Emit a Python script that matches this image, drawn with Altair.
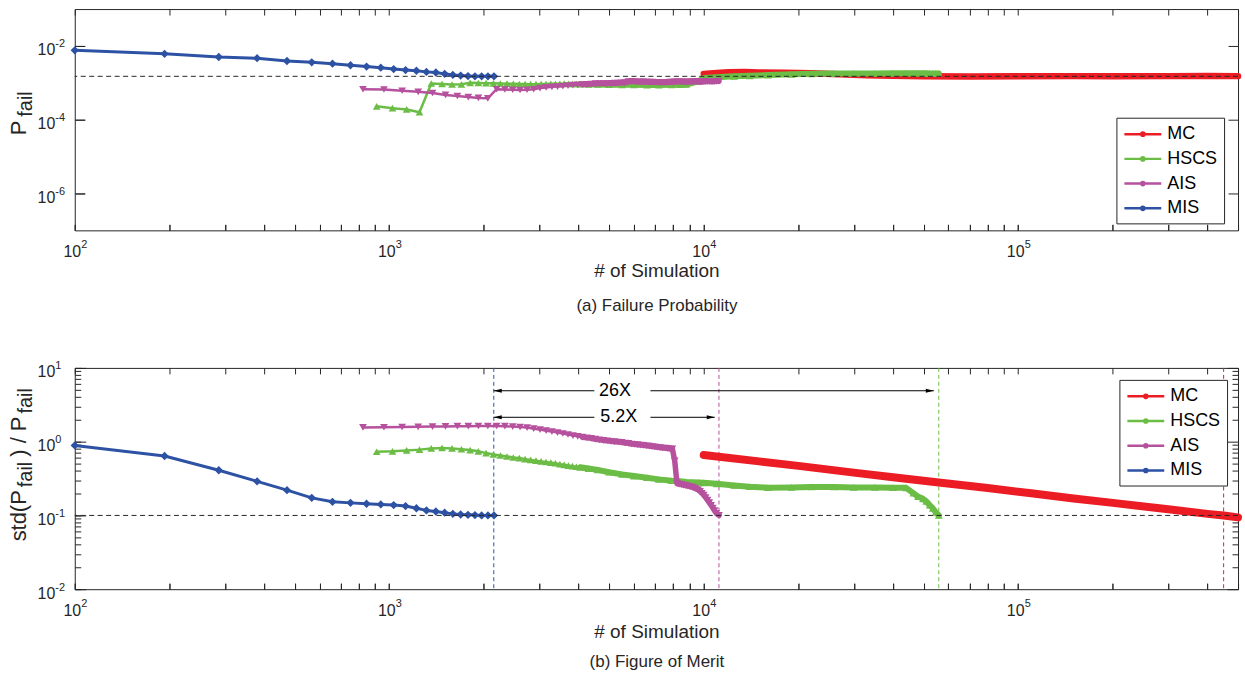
import altair as alt
import pandas as pd

# ---------------- data ----------------
SERIES = ["MC", "HSCS", "AIS", "MIS"]
COLORS = ["#EC1C24", "#6BBD45", "#B6519E", "#2D52A4"]

X_TICKS = [100, 200, 300, 400, 500, 600, 700, 800, 900,
           1000, 2000, 3000, 4000, 5000, 6000, 7000, 8000, 9000,
           10000, 20000, 30000, 40000, 50000, 60000, 70000, 80000, 90000,
           100000, 200000, 300000, 400000, 500000]
TOP_Y_MAJOR = [1e-6, 1e-4, 1e-2]
BOT_Y_MAJOR = [0.01, 0.1, 1.0, 10.0]
BOT_Y_MINOR = [0.02, 0.03, 0.04, 0.05, 0.06, 0.07, 0.08, 0.09,
               0.2, 0.3, 0.4, 0.5, 0.6, 0.7, 0.8, 0.9,
               2, 3, 4, 5, 6, 7, 8, 9]
P_REF = 1.5e-3
FOM_REF = 0.1

# MIS
n_mis = [100, 193, 287, 380, 473, 567, 660, 753, 847, 940, 1033, 1127, 1220,
         1313, 1407, 1500, 1593, 1687, 1780, 1873, 1967, 2060, 2153]
p_mis = [7.6e-3, 6.1e-3, 5.0e-3, 4.65e-3, 3.9e-3, 3.6e-3, 3.3e-3, 3.0e-3, 2.76e-3,
         2.57e-3, 2.36e-3, 2.22e-3, 2.12e-3, 1.98e-3, 1.9e-3, 1.75e-3, 1.64e-3,
         1.57e-3, 1.52e-3, 1.5e-3, 1.5e-3, 1.5e-3, 1.5e-3]
f_mis = [0.89, 0.64, 0.41, 0.29, 0.22, 0.173, 0.153, 0.148, 0.144, 0.141, 0.138,
         0.134, 0.125, 0.117, 0.113, 0.109, 0.105, 0.103, 0.102, 0.101, 0.1, 0.1, 0.1]

# AIS
n_ais = [825, 962, 1099, 1236, 1373, 1510, 1647, 1784, 1921, 2058,
         2195, 2332, 2469, 2606, 2743, 2880, 3017, 3154, 3291, 3428,
         3565, 3702, 3839, 3976, 4113, 4250, 4387, 4524, 4661, 4798,
         4935, 5072, 5209, 5346, 5483, 5620, 5757, 5894, 6031, 6168,
         6305, 6442, 6579, 6716, 6853, 6990, 7127, 7264, 7401, 7538,
         7675, 7812, 7949, 8086, 8223, 8360, 8497, 8634, 8771, 8908,
         9045, 9182, 9319, 9456, 9593, 9730, 9867, 10004, 10141, 10278,
         10415, 10552, 10689, 10826, 10963, 11180]
p_ais = [6.7e-4, 6.6e-4, 6.1e-4, 5.7e-4, 5.3e-4, 4.7e-4, 4.4e-4, 4.1e-4, 3.9e-4, 3.8e-4,
         6.7e-4, 6.6e-4, 6.5e-4, 6.4e-4, 6.5e-4, 6.7e-4, 7.2e-4, 7.5e-4, 7.8e-4, 7.9e-4,
         8.1e-4, 8.4e-4, 8.7e-4, 8.8e-4, 9.0e-4, 9.1e-4, 9.3e-4, 9.5e-4, 9.6e-4, 9.6e-4,
         9.6e-4, 9.7e-4, 9.8e-4, 9.9e-4, 1.0e-3, 1.01e-3, 1.08e-3, 1.09e-3, 1.08e-3, 1.07e-3,
         1.06e-3, 1.06e-3, 1.05e-3, 1.04e-3, 1.04e-3, 1.03e-3, 1.03e-3, 1.02e-3, 1.02e-3, 1.02e-3,
         1.03e-3, 1.04e-3, 1.05e-3, 1.06e-3, 1.07e-3, 1.07e-3, 1.06e-3, 1.06e-3, 1.05e-3, 1.05e-3,
         1.06e-3, 1.07e-3, 1.08e-3, 1.08e-3, 1.07e-3, 1.06e-3, 1.06e-3, 1.07e-3, 1.08e-3, 1.09e-3,
         1.09e-3, 1.08e-3, 1.08e-3, 1.09e-3, 1.10e-3, 1.11e-3]
f_ais = [1.56, 1.57, 1.58, 1.59, 1.60, 1.61, 1.62, 1.62, 1.63, 1.63,
         1.63, 1.62, 1.60, 1.58, 1.55, 1.50, 1.46, 1.41, 1.37, 1.33,
         1.29, 1.25, 1.21, 1.18, 1.15, 1.13, 1.11, 1.08, 1.06, 1.04,
         1.03, 1.01, 1.00, 0.99, 0.98, 0.96, 0.95, 0.93, 0.92, 0.91,
         0.90, 0.89, 0.88, 0.87, 0.86, 0.85, 0.84, 0.83, 0.82, 0.82,
         0.81, 0.80, 0.80, 0.55, 0.27, 0.265, 0.262, 0.258, 0.254, 0.250,
         0.246, 0.242, 0.236, 0.229, 0.222, 0.212, 0.200, 0.188, 0.175, 0.161,
         0.149, 0.137, 0.126, 0.116, 0.107, 0.100]

# HSCS
n_hscs = [912, 1024, 1136, 1248, 1360, 1472, 1584, 1696, 1808, 1920,
          2032, 2144, 2256, 2368, 2480, 2592, 2704, 2816, 2928, 3040,
          3152, 3264, 3376, 3488, 3600, 3712, 3824, 3936, 4048,
          4300, 4600, 5000, 5500, 6000, 6600, 7200, 7900, 8400, 8800,
          9600, 10000, 11000, 12500, 14000, 16000, 19000, 22000, 26000, 30000,
          35000, 40000, 44000, 46400, 48000, 49800, 51000, 52300, 53500, 54700, 55900]
p_hscs = [2.3e-4, 2.05e-4, 1.9e-4, 1.6e-4, 9.6e-4, 9.3e-4, 9.0e-4, 9.1e-4, 1.0e-3, 9.9e-4,
          9.8e-4, 9.7e-4, 9.6e-4, 9.5e-4, 9.4e-4, 9.3e-4, 9.3e-4, 9.2e-4, 9.2e-4, 9.3e-4,
          9.3e-4, 9.4e-4, 9.4e-4, 9.4e-4, 9.5e-4, 9.4e-4, 9.3e-4, 9.3e-4, 9.2e-4,
          9.1e-4, 9.0e-4, 8.9e-4, 8.8e-4, 8.8e-4, 8.7e-4, 8.7e-4, 8.8e-4, 8.9e-4, 9.0e-4,
          1.1e-3, 1.35e-3, 1.42e-3, 1.5e-3, 1.55e-3, 1.62e-3, 1.7e-3, 1.75e-3, 1.78e-3, 1.8e-3,
          1.8e-3, 1.81e-3, 1.82e-3, 1.82e-3, 1.82e-3, 1.81e-3, 1.81e-3, 1.8e-3, 1.8e-3, 1.8e-3, 1.8e-3]
f_hscs = [0.73, 0.74, 0.76, 0.78, 0.81, 0.82, 0.81, 0.79, 0.77, 0.74,
          0.70, 0.67, 0.65, 0.63, 0.61, 0.60, 0.58, 0.565, 0.553, 0.54,
          0.53, 0.52, 0.51, 0.495, 0.485, 0.474, 0.465, 0.457, 0.449,
          0.432, 0.415, 0.385, 0.36, 0.342, 0.325, 0.308, 0.295, 0.29, 0.285,
          0.28, 0.277, 0.268, 0.255, 0.245, 0.238, 0.24, 0.243, 0.243, 0.24,
          0.24, 0.238, 0.237, 0.20, 0.18, 0.168, 0.155, 0.138, 0.125, 0.11, 0.10]

# MC
n_mc_top = [10000, 11000, 12000, 13500, 15000, 18000, 22000, 27000, 33000,
            40000, 50000, 70000, 100000, 150000, 200000, 300000, 400000, 500000]
p_mc = [1.75e-3, 1.85e-3, 1.95e-3, 1.97e-3, 1.92e-3, 1.88e-3, 1.82e-3, 1.7e-3, 1.6e-3,
        1.55e-3, 1.5e-3, 1.48e-3, 1.5e-3, 1.52e-3, 1.5e-3, 1.52e-3, 1.53e-3, 1.52e-3]
n_mc_bot = [10000, 15000, 20000, 30000, 40000, 55900, 80000, 110000, 150000,
            200000, 300000, 400000, 450000, 500000]
f_mc = [0.66, 0.54, 0.47, 0.38, 0.33, 0.28, 0.235, 0.20, 0.17,
        0.148, 0.121, 0.105, 0.10, 0.094]

# annotations of panel (b)
VLINE_N = [2150, 11180, 55900, 450000]
VLINE_S = ["MIS", "AIS", "HSCS", "MC"]
ARROW_N1 = [2150, 6770, 2150, 6770]
ARROW_N2 = [4490, 53900, 4490, 10840]
ARROW_V = [4.9, 4.9, 2.14, 2.14]
HEAD_L_N = [2150, 2150]
HEAD_L_V = [4.9, 2.14]
HEAD_R_N = [53900, 10840]
HEAD_R_V = [4.9, 2.14]
RATIO_N = [5225, 5370]
RATIO_V = [4.9, 2.14]
RATIO_T = ["26X", "5.2X"]

# ---------------- tables ----------------
def frame(name, n, v):
    return pd.DataFrame({"N": n, "v": v, "series": name})

top_df = pd.concat([frame("MC", n_mc_top, p_mc), frame("HSCS", n_hscs, p_hscs),
                    frame("AIS", n_ais, p_ais), frame("MIS", n_mis, p_mis)], ignore_index=True)
bot_df = pd.concat([frame("MC", n_mc_bot, f_mc), frame("HSCS", n_hscs, f_hscs),
                    frame("AIS", n_ais, f_ais), frame("MIS", n_mis, f_mis)], ignore_index=True)
ONE = pd.DataFrame({"a": [0]})

# ---------------- styling helpers ----------------
FONT = "Liberation Sans"
INK = "#262626"
W, H = 1167, 222

XS = alt.Scale(type="log", domain=[100, 500000], nice=False)
YS_TOP = alt.Scale(type="log", domain=[1e-7, 1e-1], nice=False)
YS_BOT = alt.Scale(type="log", domain=[1e-2, 1e1], nice=False)
CS = alt.Scale(domain=SERIES, range=COLORS)

IS_DEC = "abs(log(datum.value)/LN10 - round(log(datum.value)/LN10)) < 0.001"
LBL_TEN = IS_DEC + " ? '10' : ''"
LBL_EXP = IS_DEC + " ? '' + round(log(datum.value)/LN10) : ''"

SYMBOL = "M-2,0H2M0.17,0A0.17,0.17,0,1,1,-0.17,0A0.17,0.17,0,1,1,0.17,0"


def ax(orient, values, size, labels=True, expr=None, pad=0, loff=0, fs=16, align=None):
    kw = dict(orient=orient, values=values, tickSize=size, offset=-size, domain=False,
              grid=False, ticks=True, tickColor=INK, tickWidth=1, title=None, labels=labels)
    if labels:
        kw.update(labelExpr=expr, labelPadding=pad, labelOffset=loff, labelFontSize=fs,
                  labelFont=FONT, labelColor=INK, labelOverlap=False, labelFlush=False,
                  labelBound=False)
        if align:
            kw["labelAlign"] = align
    return alt.Axis(**kw)


def X(axis=None):
    return alt.X("N:Q", scale=XS, axis=axis)


def Y(ys, axis=None):
    return alt.Y("v:Q", scale=ys, axis=axis)


def C(legend=None):
    return alt.Color("series:N", scale=CS, legend=legend)


def legend_at(x, y):
    return alt.Legend(title=None, orient="none", legendX=x, legendY=y, symbolType=SYMBOL,
                      symbolSize=342, symbolStrokeWidth=2.5, symbolOffset=10, labelOffset=14,
                      labelFontSize=18, labelFont=FONT, labelColor="black", strokeColor=INK,
                      fillColor="white", padding=6, rowPadding=4.8, labelLimit=300)


def axis_layer(df, ys, xaxis, yaxis):
    return alt.Chart(df).mark_point(opacity=0, size=1).encode(
        x=alt.X("N:Q", scale=XS, axis=xaxis), y=alt.Y("v:Q", scale=ys, axis=yaxis))


def text(t, x, y, size, angle=0, align="center", baseline="middle", color=INK):
    return alt.Chart(ONE).mark_text(text=t, fontSize=size, font=FONT, color=color, angle=angle,
                                    align=align, baseline=baseline).encode(
        x=alt.value(x), y=alt.value(y))


def anchor(y):
    return alt.Chart(ONE).mark_rule(opacity=0).encode(
        x=alt.value(-74), x2=alt.value(1171), y=alt.value(y))


def series_layers(df, ys, mc_width):
    out = []
    base = alt.Chart(df)
    # MC: very dense markers -> thick band
    out.append(base.transform_filter(alt.datum.series == "MC").mark_line(
        strokeWidth=mc_width, strokeCap="round", strokeJoin="round").encode(X(), Y(ys), C()))
    specs = [("HSCS", "triangle-up", 60, 2.5, 4000, 6),
             ("AIS", "triangle-down", 60, 2.5, 4000, 5.5),
             ("MIS", "diamond", 70, 3, None, None)]
    for name, shape, size, lw, band_from, band_w in specs:
        b = base.transform_filter(alt.datum.series == name)
        out.append(b.mark_line(strokeWidth=lw, strokeJoin="round").encode(X(), Y(ys), C()))
        if band_from:
            out.append(b.transform_filter(alt.datum.N >= band_from).mark_line(
                strokeWidth=band_w, strokeJoin="round", strokeCap="round").encode(X(), Y(ys), C()))
        out.append(b.mark_point(shape=shape, filled=True, size=size, opacity=1).encode(
            X(), Y(ys), C()))
    return out


# ---------------- panel (a) ----------------
mis_top = top_df[top_df.series == "MIS"]
top_layers = [
    anchor(-7),
    axis_layer(mis_top, YS_TOP, ax("bottom", X_TICKS, 6, expr=LBL_TEN, pad=13, loff=-3),
               ax("left", TOP_Y_MAJOR, 10, expr=LBL_TEN, pad=20, loff=4)),
    axis_layer(mis_top, YS_TOP, ax("bottom", X_TICKS, 6, expr=LBL_EXP, pad=8, loff=6, fs=11, align="left"),
               ax("left", TOP_Y_MAJOR, 10, expr=LBL_EXP, pad=20, loff=-2, fs=11, align="left")),
    axis_layer(mis_top, YS_TOP, ax("top", X_TICKS, 6, labels=False),
               ax("right", TOP_Y_MAJOR, 10, labels=False)),
    alt.Chart(top_df).transform_filter("false").mark_line(strokeWidth=2.5).encode(
        X(), Y(YS_TOP), C(legend_at(1045, 109))),
]
top_layers += series_layers(top_df, YS_TOP, 6.5)
top_layers += [
    alt.Chart(pd.DataFrame({"v": [P_REF]})).mark_rule(
        strokeDash=[5, 3.5], color=INK, strokeWidth=1).encode(y=Y(YS_TOP)),
    text("# of Simulation", 584, 263, 19),
    text("(a) Failure Probability", 584, 298, 17),
    text("P", -49, 126.5, 22, angle=270, align="left", baseline="alphabetic"),
    text("fail", -43, 108, 20, angle=270, align="left", baseline="alphabetic"),
]
top = alt.layer(*top_layers).resolve_axis(x="independent", y="independent").properties(
    width=W, height=H)

# ---------------- panel (b) ----------------
mis_bot = bot_df[bot_df.series == "MIS"]
bot_layers = [
    anchor(308),
    axis_layer(mis_bot, YS_BOT, ax("bottom", X_TICKS, 6, expr=LBL_TEN, pad=13, loff=-3),
               ax("left", BOT_Y_MAJOR, 11, expr=LBL_TEN, pad=20, loff=4)),
    axis_layer(mis_bot, YS_BOT, ax("bottom", X_TICKS, 6, expr=LBL_EXP, pad=8, loff=6, fs=11, align="left"),
               ax("left", BOT_Y_MAJOR + BOT_Y_MINOR, 6, expr=LBL_EXP, pad=20, loff=-2, fs=11, align="left")),
    axis_layer(mis_bot, YS_BOT, ax("top", X_TICKS, 6, labels=False),
               ax("right", BOT_Y_MAJOR, 11, labels=False)),
    axis_layer(mis_bot, YS_BOT, None, ax("right", BOT_Y_MINOR, 6, labels=False)),
    alt.Chart(bot_df).transform_filter("false").mark_line(strokeWidth=2.5).encode(
        X(), Y(YS_BOT), C(legend_at(1048, 12))),
    alt.Chart(pd.DataFrame({"N": VLINE_N, "series": VLINE_S})).mark_rule(
        strokeDash=[4, 3], strokeWidth=1).encode(X(), C()),
]
bot_layers += series_layers(bot_df, YS_BOT, 8)
bot_layers += [
    alt.Chart(pd.DataFrame({"v": [FOM_REF]})).mark_rule(
        strokeDash=[5, 3.5], color=INK, strokeWidth=1).encode(y=Y(YS_BOT)),
    alt.Chart(pd.DataFrame({"N": ARROW_N1, "N2": ARROW_N2, "v": ARROW_V})).mark_rule(
        color="black", strokeWidth=1).encode(X(), x2="N2:Q", y=Y(YS_BOT)),
    alt.Chart(pd.DataFrame({"N": HEAD_L_N, "v": HEAD_L_V})).mark_point(
        shape="M0,0L3.2,-0.8L3.2,0.8Z", filled=True, size=25, color="black", opacity=1).encode(
        X(), Y(YS_BOT)),
    alt.Chart(pd.DataFrame({"N": HEAD_R_N, "v": HEAD_R_V})).mark_point(
        shape="M0,0L-3.2,-0.8L-3.2,0.8Z", filled=True, size=25, color="black", opacity=1).encode(
        X(), Y(YS_BOT)),
    alt.Chart(pd.DataFrame({"N": RATIO_N, "v": RATIO_V, "t": RATIO_T})).mark_text(
        fontSize=18, font=FONT, color="black").encode(X(), Y(YS_BOT), text="t:N"),
    text("# of Simulation", 584, 265, 19),
    text("(b) Figure of Merit", 584, 295, 17),
    text("std(P", -49, 174, 22, angle=270, align="left", baseline="alphabetic"),
    text("fail", -43, 119.7, 20, angle=270, align="left", baseline="alphabetic"),
    text(") / P", -49, 89.1, 22, angle=270, align="left", baseline="alphabetic"),
    text("fail", -43, 45.8, 20, angle=270, align="left", baseline="alphabetic"),
]
bottom = alt.layer(*bot_layers).resolve_axis(x="independent", y="independent").properties(
    width=W, height=H)

chart = alt.vconcat(top, bottom, spacing=138, bounds="flush").resolve_scale(
    x="independent", y="independent", color="independent").resolve_legend(
    color="independent").properties(padding=0).configure(font=FONT).configure_view(
    stroke=INK, strokeWidth=1)

chart.save("out.html", embed_options={"renderer": "svg", "actions": False})
